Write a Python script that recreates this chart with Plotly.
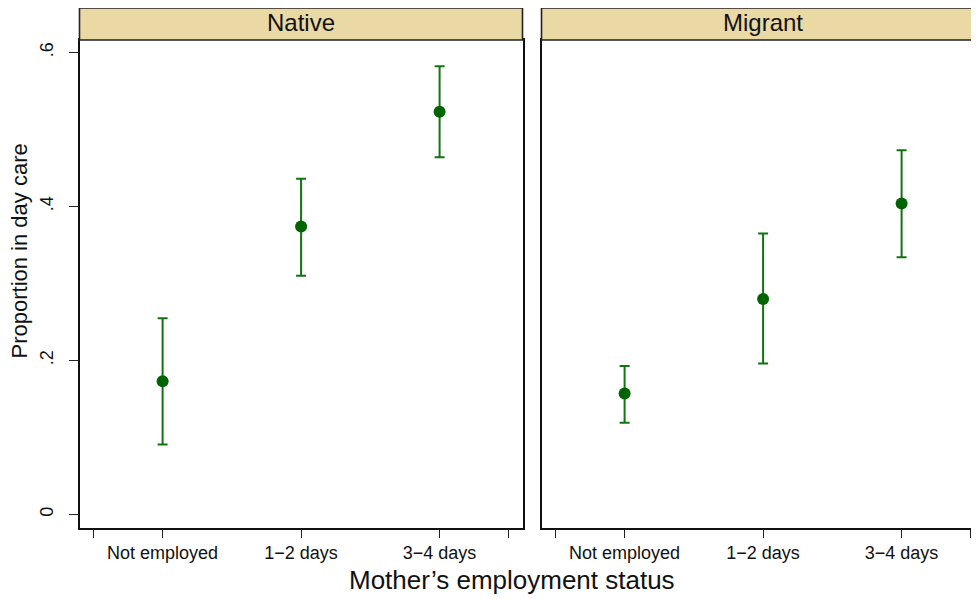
import plotly.graph_objects as go

categories = ["Not employed", "1\u22122 days", "3\u22124 days"]
cat_pos = [1, 2, 3]
panels = ["Native", "Migrant"]

native_mean = [0.173, 0.374, 0.523]
native_lo = [0.091, 0.310, 0.464]
native_hi = [0.255, 0.436, 0.582]

migrant_mean = [0.157, 0.280, 0.404]
migrant_lo = [0.119, 0.196, 0.334]
migrant_hi = [0.193, 0.365, 0.473]

y_ticks = [0, 0.2, 0.4, 0.6]
y_ticktext = ["0", ".2", ".4", ".6"]

OFF = 8  # page body margin
W, H = 979 - OFF, 599 - OFF
FONT = "Liberation Sans, Arial, sans-serif"
POINT = "#006400"
BAR = "#137313"
STRIP = "#EAD9A5"

# layout in screen pixels
left_px = (79.5, 522.5)
right_px = (541.5, 979)
top_px, bot_px = 40, 528
strip_top_px = 8
unit_px = 138.5

def px2x(p):
    return (p - OFF) / W

def px2y(p):
    return 1 - (p - OFF) / H

fig = go.Figure()

series = [(native_mean, native_lo, native_hi, "x", "y"),
          (migrant_mean, migrant_lo, migrant_hi, "x2", "y2")]
for mean, lo, hi, xa, ya in series:
    fig.add_trace(go.Scatter(
        x=cat_pos, y=mean, mode="markers", xaxis=xa, yaxis=ya,
        marker=dict(color=POINT, size=12),
        error_y=dict(type="data", symmetric=False,
                     array=[h - m for h, m in zip(hi, mean)],
                     arrayminus=[m - l for m, l in zip(mean, lo)],
                     color=BAR, thickness=2, width=5),
        showlegend=False, hoverinfo="skip"))

xr_left = [0.4, 0.4 + (left_px[1] - left_px[0]) / unit_px]
xr_right = [0.4, 0.4 + (right_px[1] - right_px[0]) / unit_px]
y_per_px = 0.2 / 154.0
zero_px = 514.5
yr = [-(bot_px - zero_px) * y_per_px, (zero_px - top_px) * y_per_px]

xtickvals = [0.5] + cat_pos + [3.5]
xticktext = [""] + categories + [""]

common_x = dict(tickmode="array", tickvals=xtickvals, ticktext=xticktext,
                ticks="outside", ticklen=8, tickwidth=1.3, tickcolor="#222",
                showgrid=False, zeroline=False, showline=True, linecolor="#111",
                linewidth=1.6, mirror=True,
                tickfont=dict(family=FONT, size=18, color="#111"),
                fixedrange=True)

fig.update_layout(
    width=W, height=H, margin=dict(l=0, r=0, t=0, b=0),
    paper_bgcolor="white", plot_bgcolor="white",
    xaxis=dict(domain=[px2x(left_px[0]), px2x(left_px[1])], range=xr_left,
               anchor="y", **common_x),
    xaxis2=dict(domain=[px2x(right_px[0]), 1], range=xr_right,
                anchor="y2", **common_x),
    yaxis=dict(domain=[px2y(bot_px), px2y(top_px)], range=yr,
               tickmode="array", tickvals=y_ticks, ticktext=y_ticktext,
               tickangle=-90, ticks="outside", ticklen=9, tickwidth=1.3,
               tickcolor="#222", showgrid=False, zeroline=False,
               showline=True, linecolor="#111", linewidth=1.6, mirror=True,
               tickfont=dict(family=FONT, size=18, color="#111"),
               ticklabelstandoff=9, fixedrange=True),
    yaxis2=dict(domain=[px2y(bot_px), px2y(top_px)], range=yr, anchor="x2",
                showticklabels=False, ticks="", showgrid=False, zeroline=False,
                showline=True, linecolor="#111", linewidth=1.6, mirror=False,
                fixedrange=True),
)

# strip headers (right one runs past the page edge, as in the original)
strips = [(left_px[0], left_px[1], left_px[1]), (right_px[0], right_px[1] + 10, 984.5)]
for name, (a, b, edge) in zip(panels, strips):
    fig.add_shape(type="rect", xref="paper", yref="paper",
                  x0=px2x(a), x1=px2x(b), y0=px2y(top_px), y1=px2y(strip_top_px),
                  fillcolor=STRIP, line=dict(color="#222", width=1.6), layer="above")
    fig.add_annotation(x=px2x((a + edge) / 2), y=px2y(22.5),
                       xref="paper", yref="paper", text=name, showarrow=False,
                       xanchor="center", yanchor="middle",
                       font=dict(family=FONT, size=24, color="#111"))

fig.add_annotation(x=px2x(18.5), y=px2y(251), xref="paper", yref="paper",
                   text="Proportion in day care", textangle=-90, showarrow=False,
                   xanchor="center", yanchor="middle",
                   font=dict(family=FONT, size=22, color="#111"))
fig.add_annotation(x=px2x(512), y=px2y(580), xref="paper", yref="paper",
                   text="Mother\u2019s employment status", showarrow=False,
                   xanchor="center", yanchor="middle",
                   font=dict(family=FONT, size=26, color="#111"))

fig.write_html("out.html")
